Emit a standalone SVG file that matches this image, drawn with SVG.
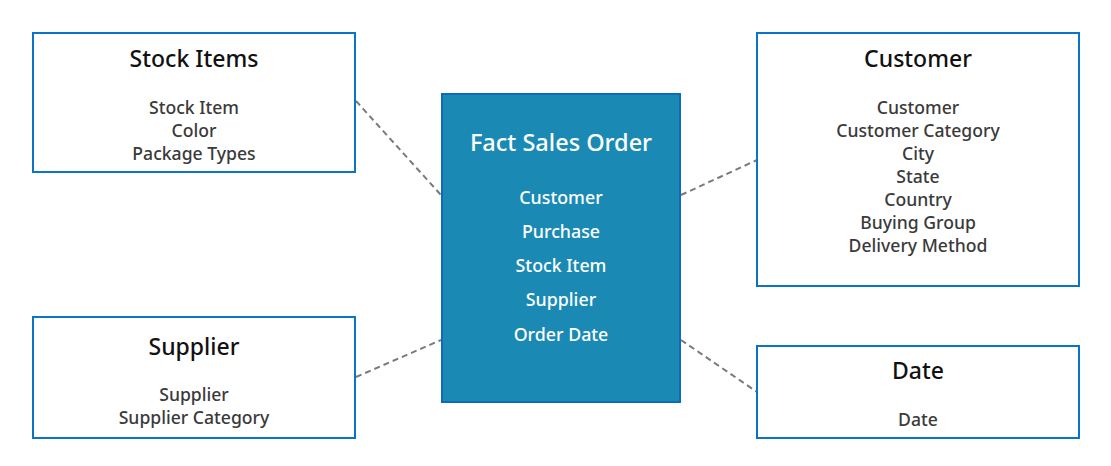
<svg xmlns="http://www.w3.org/2000/svg" width="1111" height="466" viewBox="0 0 1111 466">
<style>
.dim{fill:#fff;stroke:#0a74c9;stroke-width:2}
.fact{fill:#1a8ab5;stroke:#0a6cbf;stroke-width:2}
text{font-family:"Noto Sans","Open Sans","Liberation Sans",sans-serif;text-anchor:middle}
.t{font-size:23px;font-weight:500;fill:#111}
.i{font-size:17.6px;font-weight:500;fill:#3a3a3a}
.ft{font-size:23.5px;font-weight:500;fill:#fff}
.fi{font-size:17.8px;font-weight:500;fill:#fff}
.c{stroke:#7a7a7a;stroke-width:2;stroke-dasharray:6 4;fill:none}
</style>
<rect width="1111" height="466" fill="#fff"/>
<g id="connectors">
<line class="c" x1="356" y1="101" x2="441" y2="195"/>
<line class="c" x1="681" y1="195" x2="757" y2="160"/>
<line class="c" x1="356" y1="377" x2="441" y2="340"/>
<line class="c" x1="681" y1="340" x2="757" y2="392"/>
</g>
<g id="stock-items">
<rect class="dim" x="33" y="33" width="322" height="139"/>
<text class="t" x="194" y="67">Stock Items</text>
<text class="i" x="194" y="114">Stock Item</text>
<text class="i" x="194" y="137">Color</text>
<text class="i" x="194" y="160">Package Types</text>
</g>
<g id="supplier">
<rect class="dim" x="33" y="317" width="322" height="121"/>
<text class="t" x="194" y="355">Supplier</text>
<text class="i" x="194" y="401">Supplier</text>
<text class="i" x="194" y="424">Supplier Category</text>
</g>
<g id="fact-sales-order">
<rect class="fact" x="442" y="94" width="238" height="308"/>
<text class="ft" x="561" y="151">Fact Sales Order</text>
<text class="fi" x="561" y="204">Customer</text>
<text class="fi" x="561" y="238">Purchase</text>
<text class="fi" x="561" y="272">Stock Item</text>
<text class="fi" x="561" y="306">Supplier</text>
<text class="fi" x="561" y="341">Order Date</text>
</g>
<g id="customer">
<rect class="dim" x="757" y="33" width="322" height="253"/>
<text class="t" x="918" y="67">Customer</text>
<text class="i" x="918" y="114">Customer</text>
<text class="i" x="918" y="137">Customer Category</text>
<text class="i" x="918" y="160">City</text>
<text class="i" x="918" y="183">State</text>
<text class="i" x="918" y="206">Country</text>
<text class="i" x="918" y="229">Buying Group</text>
<text class="i" x="918" y="252">Delivery Method</text>
</g>
<g id="date">
<rect class="dim" x="757" y="346" width="322" height="92"/>
<text class="t" x="918" y="379">Date</text>
<text class="i" x="918" y="426">Date</text>
</g>
</svg>
